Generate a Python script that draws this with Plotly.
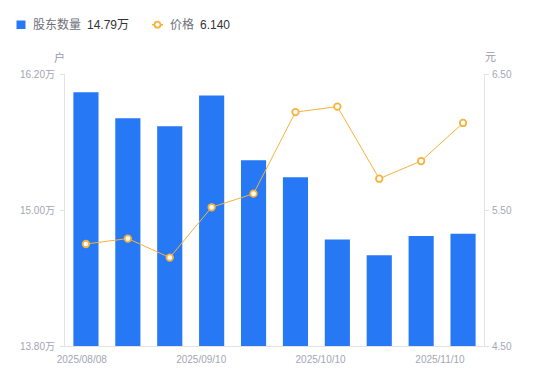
import plotly.graph_objects as go

dates = ["2025/08/08", "2025/08/20", "2025/08/29", "2025/09/10", "2025/09/19",
         "2025/09/30", "2025/10/10", "2025/10/20", "2025/10/31", "2025/11/10"]
holders = [16.04, 15.81, 15.74, 16.01, 15.44, 15.29, 14.74, 14.60, 14.77, 14.79]  # 万户
price = [5.25, 5.29, 5.15, 5.52, 5.62, 6.22, 6.26, 5.73, 5.86, 6.14]  # 元
x_tick_labels = ["2025/08/08", "2025/09/10", "2025/10/10", "2025/11/10"]
left_ticks = [13.80, 15.00, 16.20]
right_ticks = [4.50, 5.50, 6.50]

BLUE = "#2778f5"
ORANGE = "#f7b23b"
TICK = "#a3a6b4"
AXIS = "#e3e3e6"
FONT = "Liberation Sans, Noto Sans CJK SC, sans-serif"

idx = list(range(len(dates)))

fig = go.Figure()
fig.add_trace(go.Bar(
    x=idx, y=holders, name="股东数量", marker=dict(color=BLUE, line=dict(width=0)),
    width=0.6, hovertext=dates, yaxis="y"))
fig.add_trace(go.Scatter(
    x=idx, y=price, name="价格", mode="lines+markers", yaxis="y2",
    line=dict(color=ORANGE, width=1),
    marker=dict(symbol="circle", size=6.5, color="white", line=dict(color=ORANGE, width=1.8)),
    hovertext=dates))

# page body has an 8px margin: figure is drawn offset by (8, 8)
OFF = 8
W, H = 550 - OFF, 381 - OFF
# plot area in screen px: x 65..484, y 74..346
SL, SR, ST, SB = 65, 484, 74, 346
L, R, T, B = SL - OFF, SR - OFF, ST - OFF, SB - OFF

def px(xp):
    return (xp - SL) / (SR - SL)
def py(yp):
    return (SB - yp) / (SB - ST)

# x tick positions (fractional category index)
step = (8.45 + 0.1) / 3
xtickvals = [-0.1 + i * step for i in range(len(x_tick_labels))]

annotations = [
    dict(text="股东数量", x=px(31), y=py(25), xref="paper", yref="paper",
         xanchor="left", yanchor="middle", showarrow=False,
         font=dict(size=12, color="#6e7079", family=FONT)),
    dict(text=f"{holders[-1]:.2f}万", x=px(85), y=py(25), xref="paper", yref="paper",
         xanchor="left", yanchor="middle", showarrow=False,
         font=dict(size=12, color="#333333", family=FONT)),
    dict(text="价格", x=px(168), y=py(25), xref="paper", yref="paper",
         xanchor="left", yanchor="middle", showarrow=False,
         font=dict(size=12, color="#6e7079", family=FONT)),
    dict(text=f"{price[-1]:.3f}", x=px(198), y=py(25), xref="paper", yref="paper",
         xanchor="left", yanchor="middle", showarrow=False,
         font=dict(size=12, color="#333333", family=FONT)),
    dict(text="户", x=px(59), y=py(57), xref="paper", yref="paper",
         xanchor="center", yanchor="middle", showarrow=False,
         font=dict(size=11, color="#999aa6", family=FONT)),
    dict(text="元", x=px(490), y=py(57), xref="paper", yref="paper",
         xanchor="center", yanchor="middle", showarrow=False,
         font=dict(size=11, color="#999aa6", family=FONT)),
]

shapes = [
    dict(type="rect", xref="paper", yref="paper", x0=px(16.5), x1=px(25.5),
         y0=py(29), y1=py(20.5), fillcolor=BLUE, line=dict(width=0)),
    dict(type="line", xref="paper", yref="paper", x0=px(152), x1=px(163),
         y0=py(24.7), y1=py(24.7), line=dict(color=ORANGE, width=1.5)),
    dict(type="circle", xref="paper", yref="paper", x0=px(154.5), x1=px(160.5),
         y0=py(27.7), y1=py(21.7), fillcolor="white", line=dict(color=ORANGE, width=1.8)),
]

fig.update_layout(
    width=W, height=H,
    margin=dict(l=L, r=W - R, t=T, b=H - B, pad=0, autoexpand=False),
    paper_bgcolor="white", plot_bgcolor="white",
    showlegend=False,
    font=dict(family=FONT, size=10, color=TICK),
    bargap=0.4,
    xaxis=dict(range=[-0.5, len(dates) - 0.5], tickvals=xtickvals, ticktext=x_tick_labels,
               showgrid=False, zeroline=False, showline=True, linecolor=AXIS, linewidth=1,
               ticks="", tickfont=dict(size=10, color=TICK), automargin=False,
               ticklabelstandoff=4),
    yaxis=dict(range=[13.80, 16.20], tickvals=left_ticks,
               ticktext=[f"{v:.2f}万" for v in left_ticks],
               showgrid=False, zeroline=False, showline=True, linecolor=AXIS, linewidth=1,
               ticks="outside", ticklen=4, tickcolor=AXIS, tickfont=dict(size=10, color=TICK),
               automargin=False, ticklabelstandoff=3),
    yaxis2=dict(range=[4.50, 6.50], tickvals=right_ticks,
                ticktext=[f"{v:.2f}" for v in right_ticks],
                overlaying="y", side="right",
                showgrid=False, zeroline=False, showline=True, linecolor=AXIS, linewidth=1,
                ticks="outside", ticklen=4, tickcolor=AXIS, tickfont=dict(size=10, color=TICK),
                automargin=False, ticklabelstandoff=1),
    annotations=annotations,
    shapes=shapes,
)

fig.write_html("out.html")
